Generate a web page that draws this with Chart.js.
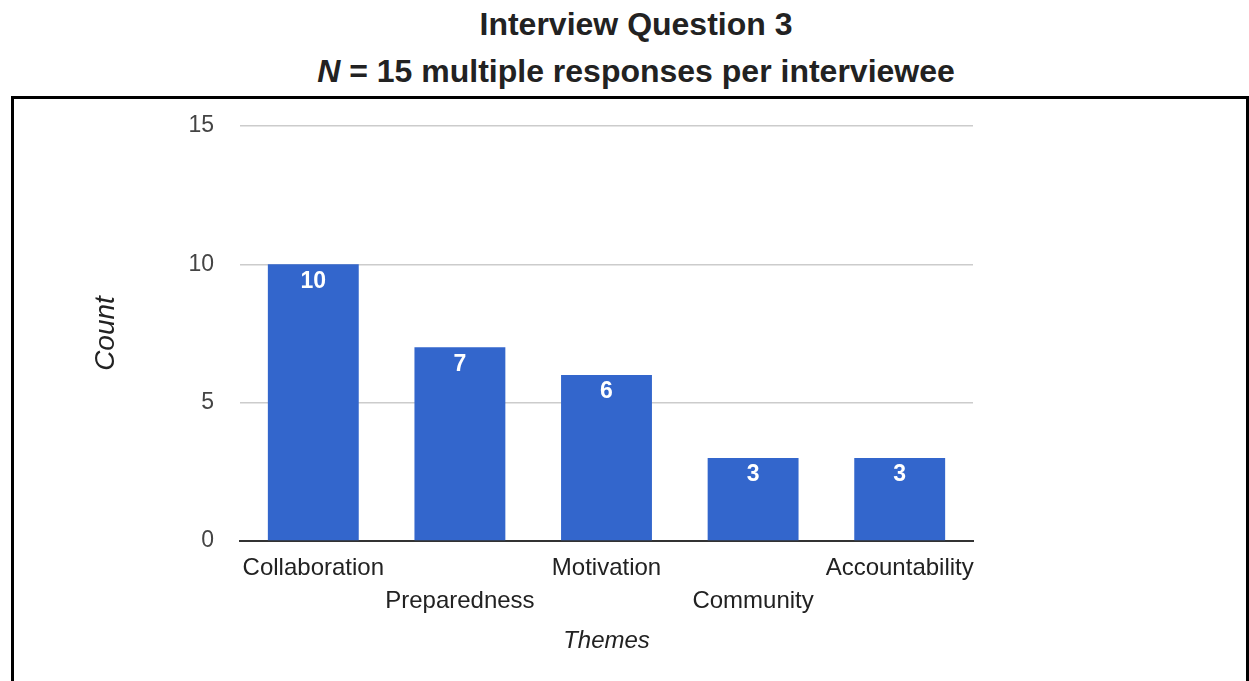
<!DOCTYPE html>
<html>
<head>
<meta charset="utf-8">
<script src="https://cdn.jsdelivr.net/npm/chart.js@4/dist/chart.umd.min.js"></script>
<style>
  body { margin: 0; background: #fff; font-family: "Liberation Sans", Arial, sans-serif; }
  .title { position: absolute; left: 0; width: 1272px; text-align: center; font-weight: bold;
           font-size: 32px; line-height: 32px; color: #222; white-space: nowrap; }
  #box { position: absolute; left: 11px; top: 96px; width: 1232px; height: 600px;
         border: 3px solid #000; border-bottom: none; }
  #box canvas { position: absolute; left: 0; top: 0; }
</style>
</head>
<body>
<div class="title" style="top:8px">Interview Question 3</div>
<div class="title" style="top:55px"><i>N</i> = 15 multiple responses per interviewee</div>
<div id="box"><canvas id="myChart" width="1232" height="582"></canvas></div>
<script>
// themes and counts
var themes = ['Collaboration', 'Preparedness', 'Motivation', 'Community', 'Accountability'];
var counts = [10, 7, 6, 3, 3];
var yTicks = [0, 5, 10, 15];

// white value labels inside the top of each bar
var barLabels = {
  id: 'barLabels',
  afterDatasetsDraw: function(chart) {
    var ctx = chart.ctx;
    var meta = chart.getDatasetMeta(0);
    ctx.save();
    ctx.fillStyle = '#fff';
    ctx.font = 'bold 23px "Liberation Sans", Arial, sans-serif';
    ctx.textAlign = 'center';
    ctx.textBaseline = 'middle';
    meta.data.forEach(function(bar, i) {
      ctx.fillText(counts[i], bar.x, bar.y + 17);
    });
    ctx.restore();
  }
};

var ctx = document.getElementById('myChart').getContext('2d');
var myChart = new Chart(ctx, {
  type: 'bar',
  data: {
    labels: themes,
    datasets: [{
      label: 'Count',
      data: counts,
      backgroundColor: '#3366cc',
      borderWidth: 0,
      barPercentage: 0.62,
      categoryPercentage: 1
    }]
  },
  options: {
    responsive: false,
    animation: false,
    layout: { padding: { left: 75, right: 273, top: 27, bottom: 25 } },
    plugins: { legend: { display: false }, tooltip: { enabled: false } },
    scales: {
      x: {
        grid: { display: false, drawTicks: false },
        border: { color: '#333', width: 2 },
        ticks: {
          autoSkip: false,
          maxRotation: 0,
          padding: 11,
          color: '#222',
          font: { family: '"Liberation Sans", Arial', size: 24, lineHeight: 1.375 },
          // stagger the category names onto two rows
          callback: function(v, i) { return i % 2 ? ['', themes[i]] : themes[i]; }
        },
        title: {
          display: true, text: 'Themes', color: '#222', padding: 0,
          font: { family: '"Liberation Sans", Arial', size: 24, style: 'italic', lineHeight: 1.2 }
        },
        afterFit: function(s) { s.height = 115; s.paddingTop = 0; s.paddingBottom = 0; }
      },
      y: {
        min: 0, max: 15,
        afterBuildTicks: function(s) { s.ticks = yTicks.map(function(v) { return { value: v }; }); },
        grid: {
          drawTicks: false,
          color: function(c) { return c.tick && c.tick.value === 0 ? 'rgba(0,0,0,0)' : '#cccccc'; },
          lineWidth: 1.5
        },
        border: { display: false },
        ticks: {
          padding: 26,
          color: '#444',
          font: { family: '"Liberation Sans", Arial', size: 23 }
        },
        title: {
          display: true, text: 'Count', color: '#222', padding: 0,
          font: { family: '"Liberation Sans", Arial', size: 28, style: 'italic', lineHeight: 1.2 }
        },
        afterFit: function(s) { s.width = 151; s.paddingTop = 0; s.paddingBottom = 0; }
      }
    }
  },
  plugins: [barLabels]
});
</script>
</body>
</html>
